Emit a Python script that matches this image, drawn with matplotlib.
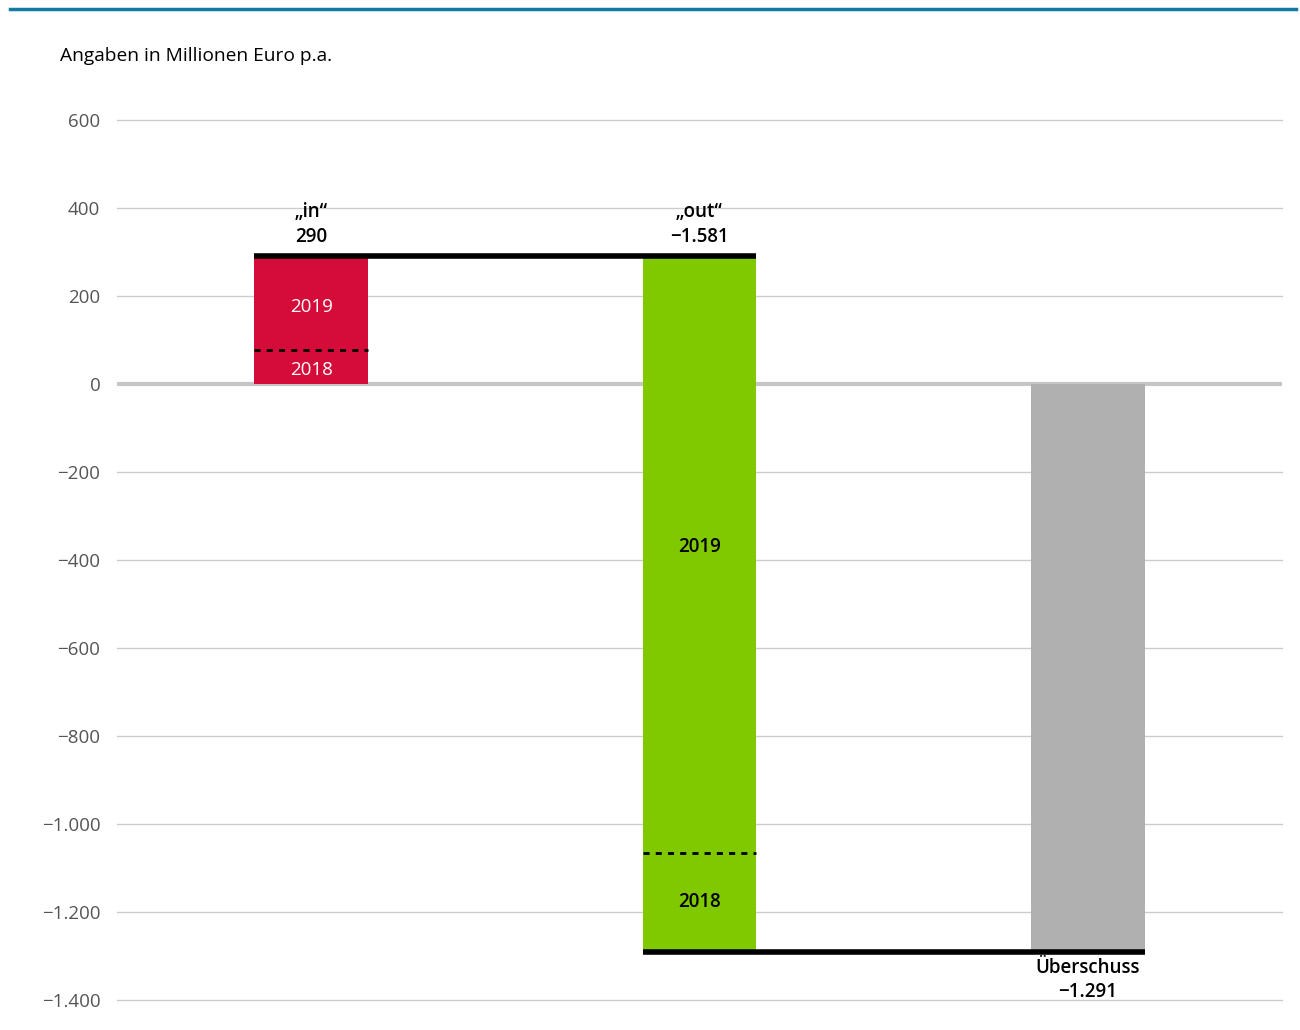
import matplotlib
matplotlib.use("Agg")
import matplotlib.pyplot as plt

plt.rcParams["font.family"] = ["Open Sans", "DejaVu Sans"]

# Werte in Mio. Euro p.a.
categories = ["„in“", "„out“", "Überschuss"]
totals = [290, -1581, -1291]
in_parts = [77, 213]        # 2018, 2019 (von unten nach oben)
out_parts = [225, 1356]     # 2018 (unten), 2019 (oben)
segment_labels = ["2018", "2019"]
yticks = [600, 400, 200, 0, -200, -400, -600, -800, -1000, -1200, -1400]

RED = "#d50c3a"
GREEN = "#80c800"
GREY = "#b0b0b0"
W = 0.293
FS = 13.5


def fmt(v):
    s = f"{abs(v):,}".replace(",", ".")
    return ("\u2212" + s) if v < 0 else s


fig = plt.figure(figsize=(13, 10.3), dpi=100)
fig.add_artist(plt.Line2D([10 / 1300, 1296 / 1300], [1 - 8.5 / 1030] * 2,
                          color="#137ba3", lw=2.5))
fig.text(60 / 1300, 1 - 56 / 1030, "Angaben in Millionen Euro p.a.",
         fontsize=13.8, va="center", ha="left")

ax = fig.add_axes([117 / 1300, 1 - 1000 / 1030, 1165 / 1300, 880 / 1030])
ax.set_xlim(-0.5, 2.5)
ax.set_ylim(-1400, 600)
for s in ax.spines.values():
    s.set_visible(False)
ax.set_xticks([])
ax.set_yticks(yticks)
ax.set_yticklabels([fmt(v) for v in yticks], fontsize=FS, color="#555555")
ax.tick_params(axis="y", length=0, pad=12)

for v in yticks:
    if v == 0:
        ax.axhline(v, color="#c6c6c6", lw=3, zorder=1)
    else:
        ax.axhline(v, color="#cccccc", lw=1, zorder=1, clip_on=False)

# "in"
ax.bar(0, in_parts[0], W, bottom=0, color=RED, zorder=2)
ax.bar(0, in_parts[1], W, bottom=in_parts[0], color=RED, zorder=2)
ax.plot([-W / 2, W / 2], [in_parts[0]] * 2, color="black", lw=2,
        ls=(0, (2.2, 2.2)), zorder=3)
ax.text(0, in_parts[0] / 2 - 6, segment_labels[0], ha="center", va="center",
        color="white", fontsize=FS)
ax.text(0, in_parts[0] + in_parts[1] / 2 - 8, segment_labels[1], ha="center",
        va="center", color="white", fontsize=FS)

# "out"
out_bottom = totals[0] + totals[1]
ax.bar(1, out_parts[0], W, bottom=out_bottom, color=GREEN, zorder=2)
ax.bar(1, out_parts[1], W, bottom=out_bottom + out_parts[0], color=GREEN, zorder=2)
ax.plot([1 - W / 2, 1 + W / 2], [out_bottom + out_parts[0]] * 2, color="black",
        lw=2, ls=(0, (2.2, 2.2)), zorder=3)
ax.text(1, out_bottom + out_parts[0] / 2 + 2, segment_labels[0], ha="center",
        va="center", color="black", fontsize=FS, fontweight="semibold")
ax.text(1, out_bottom + out_parts[0] + out_parts[1] / 2 + 18, segment_labels[1],
        ha="center", va="center", color="black", fontsize=FS,
        fontweight="semibold")

# Überschuss
ax.bar(2, totals[2], W, bottom=0, color=GREY, zorder=2)

# Verbindungslinien
ax.plot([-W / 2, 1 + W / 2], [totals[0]] * 2, color="black", lw=4,
        solid_capstyle="butt", zorder=4)
ax.plot([1 - W / 2, 2 + W / 2], [totals[2]] * 2, color="black", lw=4,
        solid_capstyle="butt", zorder=4)

# Beschriftungen
for x, v in [(0, totals[0]), (1, totals[1])]:
    ax.annotate(f"{categories[x]}\n{fmt(v)}", (x, totals[0]),
                xytext=(0, 7), textcoords="offset points", ha="center",
                va="bottom", fontsize=FS, fontweight="semibold",
                linespacing=1.3)
ax.annotate(f"{categories[2]}\n{fmt(totals[2])}", (2, totals[2]),
            xytext=(0, -4), textcoords="offset points", ha="center",
            va="top", fontsize=FS, fontweight="semibold", linespacing=1.3)

fig.savefig("out.png", dpi=100, facecolor="white")
